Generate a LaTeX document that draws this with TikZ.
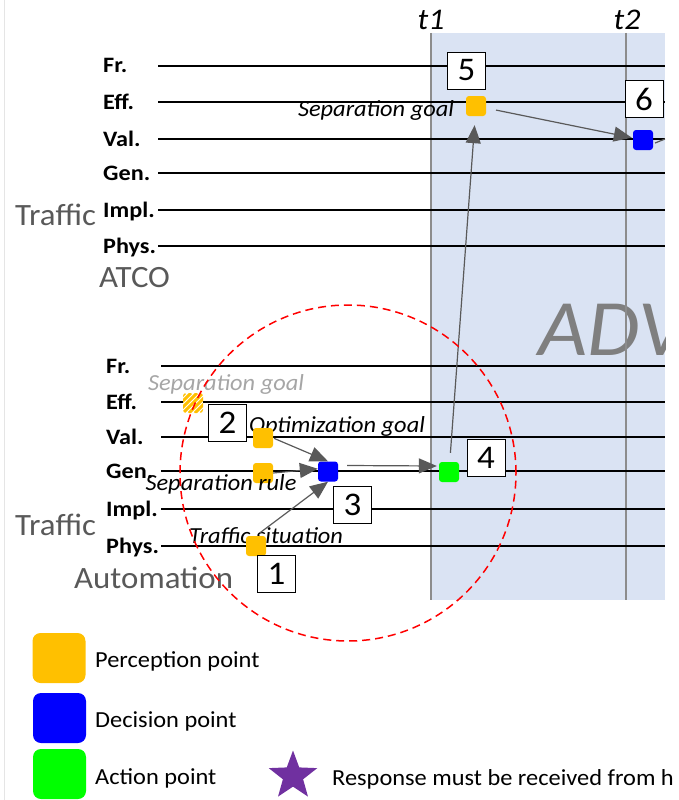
\documentclass[tikz,border=0pt]{standalone}
\usepackage{fontspec}
\setmainfont{Carlito}[FakeStretch=1.06]
\usetikzlibrary{arrows.meta,shapes.geometric}
\definecolor{pOrange}{HTML}{FFC000}
\definecolor{pBlue}{HTML}{0000FF}
\definecolor{pGreen}{HTML}{00FF00}
\definecolor{pPurple}{HTML}{7030A0}
\definecolor{shadeblue}{HTML}{DAE3F3}
\definecolor{txtgray}{HTML}{595959}
\definecolor{arrgray}{HTML}{595959}
\definecolor{tgray}{HTML}{8C8C8C}
\definecolor{lightgray}{HTML}{A6A6A6}
\definecolor{advgray}{HTML}{7F7F7F}
\begin{document}
\begin{tikzpicture}[x=1pt,y=-1pt,
  ptsq/.style={rounded corners=3pt,minimum width=20pt,minimum height=20pt,inner sep=0pt},
  lgsq/.style={rounded corners=8pt,minimum width=53pt,minimum height=50pt,inner sep=0pt},
  numbox/.style={draw=black,line width=0.9pt,fill=white,minimum width=38pt,minimum height=37pt,inner sep=0pt,font=\fontsize{33}{33}\selectfont},
  lvl/.style={anchor=base west,inner sep=0pt,font=\bfseries\fontsize{22}{22}\selectfont\addfontfeature{FakeStretch=1.1}},
  itl/.style={anchor=base,inner sep=0pt,font=\itshape\fontsize{23}{23}\selectfont},
  big/.style={anchor=base west,inner sep=0pt,text=txtgray,font=\fontsize{31}{31}\selectfont},
  lgtxt/.style={anchor=base west,inner sep=0pt,font=\fontsize{23}{23}\selectfont},
  tlab/.style={anchor=base,inner sep=0pt,font=\itshape\fontsize{30}{30}\selectfont},
  conn/.style={draw=arrgray,line width=1.2pt,-{Triangle[length=18pt,width=15pt]}},
  axisline/.style={line width=1.1pt,draw=black},
  tline/.style={line width=1.4pt,draw=tgray},
]
\useasboundingbox (0,0) rectangle (679,800);
\draw[line width=0.8pt,draw=black!10] (4.5,0) -- (4.5,800);

% shaded advisory region
\fill[shadeblue] (431,33) rectangle (665,600);
\begin{scope}
  \clip (431,33) rectangle (665,600);
  \node[anchor=base west,inner sep=0pt,text=advgray,font=\itshape\fontsize{80}{80}\selectfont] (adv) at (538,355) {ADV};
\end{scope}

% time lines
\draw[tline] (431,33) -- (431,600);
\draw[tline] (626,33) -- (626,600);
\node[tlab] (t1) at (431,30) {t1};
\node[tlab] (t2) at (627,30) {t2};

% level lines, top (ATCO)
\foreach \yy/\lab in {66/Fr.,102/Eff.,139/Val.,173/Gen.,210/Impl.,246/Phys.}{
  \draw[axisline] (158,\yy) -- (665,\yy);
  \node[lvl] at (103,\yy+7) {\lab};
}
% level lines, bottom (Automation)
\foreach \yy/\lab in {366/Fr.,402/Eff.,437/Val.,471/Gen.,509/Impl.,546/Phys.}{
  \draw[axisline] (161,\yy) -- (665,\yy);
  \node[lvl] at (106,\yy+7) {\lab};
}

% actor labels
\node[big] (trA) at (15,225) {Traffic};
\node[big] (atco) at (99,287) {ATCO};
\node[big] (trB) at (15,535) {Traffic};
\node[big] (auto) at (74,588) {Automation};

% top points
\node[numbox] (n5) at (466.5,70.5) {5};
\node[numbox] (n6) at (644,99) {6};
\node[ptsq,fill=pOrange] (o5) at (476,106) {};
\node[ptsq,fill=pBlue] (b6) at (643,140) {};
\node[itl] (sg1) at (376,116) {Separation goal};

% bottom points
\begin{scope}
  \clip[rounded corners=3pt] (183,393) rectangle (203,413);
  \fill[white] (183,393) rectangle (203,413);
  \foreach \k in {-30,-24,...,30}{
    \draw[pOrange,line width=3pt] (183+\k,413) -- (203+\k,393);
  }
\end{scope}
\coordinate (hg) at (193,403);
\node[itl,text=lightgray] (sg2) at (226,390) {Separation goal};
\node[numbox] (n2) at (227.5,423) {2};
\node[itl] (og) at (337,432) {Optimization goal};
\node[ptsq,fill=pOrange] (o2v) at (263,438) {};
\node[ptsq,fill=pOrange] (o2g) at (263,473) {};
\node[itl] (sr) at (221,490) {Separation rule};
\node[ptsq,fill=pBlue] (b3) at (328,471.5) {};
\node[numbox] (n3) at (352.5,504.5) {3};
\node[itl] (ts) at (266,543) {Traffic situation};
\node[ptsq,fill=pOrange] (o1) at (256,546) {};
\node[numbox] (n1) at (276.5,574) {1};
\node[ptsq,fill=pGreen] (g4) at (449,472) {};
\node[numbox] (n4) at (486,457.5) {4};

% connectors
\draw[conn,shorten <=1pt] (o2v.east) -- (b3.north);
\draw[conn] (o2g.east) -- (b3.165);
\draw[conn,shorten <=5pt] (o1.north) -- (b3.south);
\draw[conn] ([xshift=9pt,yshift=6pt]b3.east) -- ([xshift=-2pt,yshift=6pt]g4.west);
\draw[conn,shorten <=9pt,shorten >=9pt] (g4) -- (o5);
\draw[conn,shorten <=10pt,shorten >=1pt] (o5) -- (b6);
\coordinate (b6s) at (655,143);
\coordinate (b6x) at (665,139);
\draw[draw=arrgray,line width=1.2pt] (b6s) -- (b6x);

% red dashed circle
\node[draw=red,line width=1.5pt,dash pattern=on 8pt off 5pt,circle,minimum size=336pt,inner sep=0pt] (focus) at (348,473) {};

% legend
\node[lgsq,fill=pOrange] (lgp) at (59,658) {};
\node[lgtxt] (lgpt) at (95,667) {Perception point};
\node[lgsq,fill=pBlue] (lgd) at (59.5,718) {};
\node[lgtxt] (lgdt) at (95,727) {Decision point};
\node[lgsq,fill=pGreen] (lga) at (59.5,774) {};
\node[lgtxt] (lgat) at (95,784) {Action point};
\node[star,star points=5,star point ratio=2.4,fill=pPurple,minimum size=51pt,inner sep=0pt] (lgs) at (293,776) {};
\begin{scope}
  \clip (320,740) rectangle (672,800);
  \node[lgtxt] (lgst) at (332,785) {Response must be received from h};
\end{scope}
\end{tikzpicture}
\end{document}
